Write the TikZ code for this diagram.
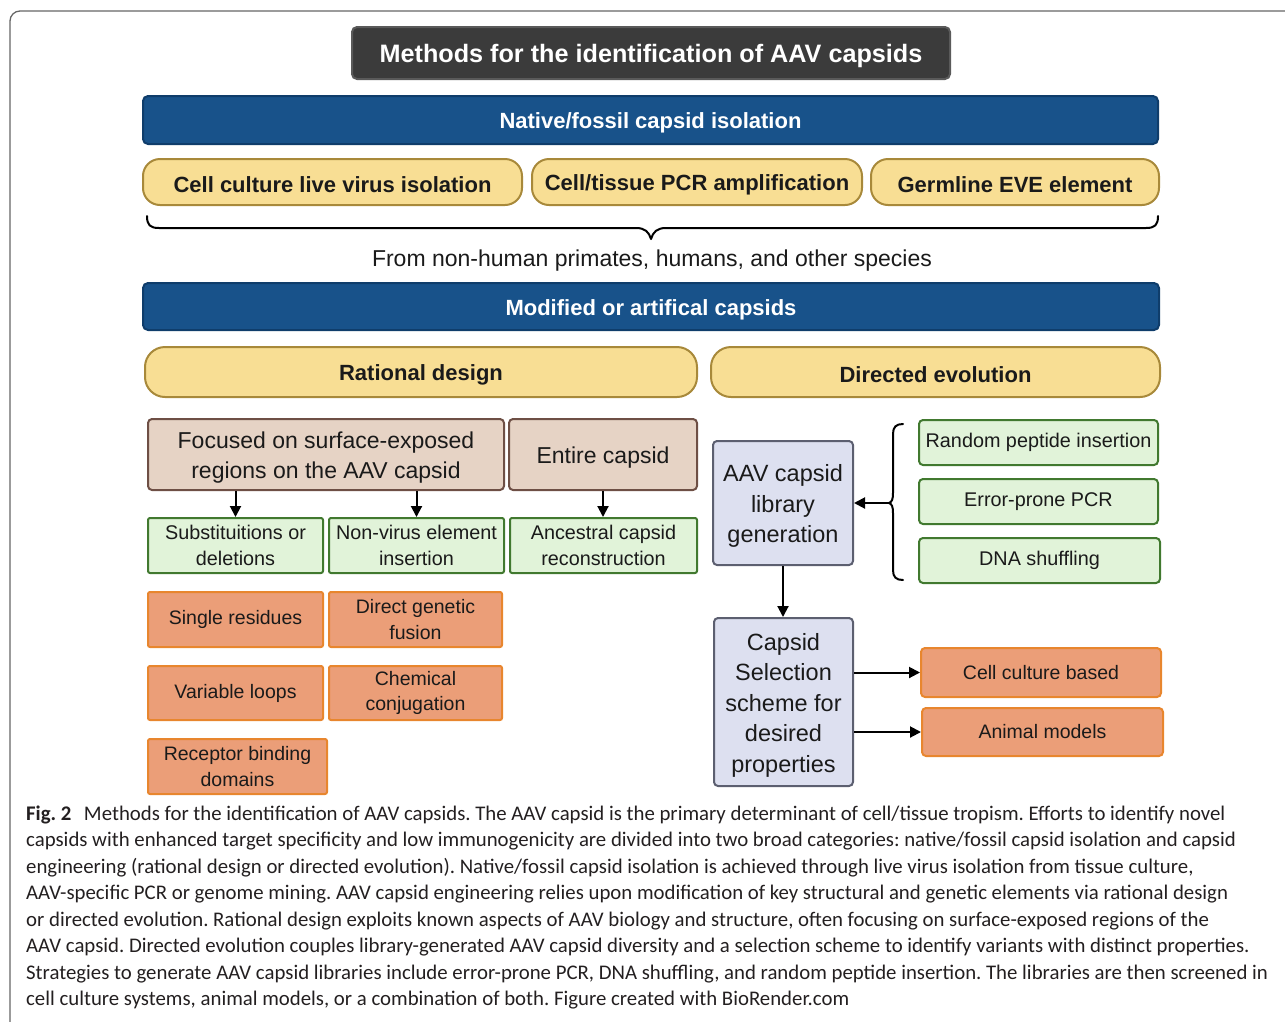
\documentclass[tikz,border=0pt]{standalone}
\usepackage{fontspec}
\setmainfont{Liberation Sans}
\newfontfamily\capfont{Carlito}
\usetikzlibrary{arrows.meta}
\definecolor{titlef}{HTML}{3B3B3B}
\definecolor{titleb}{HTML}{5A5A5A}
\definecolor{bluef}{HTML}{18528A}
\definecolor{blueb}{HTML}{0F3D6B}
\definecolor{yelf}{HTML}{F8DE94}
\definecolor{yelb}{HTML}{A8893A}
\definecolor{brnf}{HTML}{E6D3C5}
\definecolor{brnb}{HTML}{6E4F45}
\definecolor{grnf}{HTML}{E1F3D9}
\definecolor{grnb}{HTML}{41792F}
\definecolor{orgf}{HTML}{EB9E78}
\definecolor{orgb}{HTML}{E8862E}
\definecolor{lavf}{HTML}{DDE0F0}
\definecolor{lavb}{HTML}{5C5F70}
\definecolor{txt}{HTML}{1A1A1A}
\definecolor{captxt}{HTML}{231F20}
\frenchspacing
\begin{document}
\begin{tikzpicture}[x=1pt,y=-1pt,
  box/.style={draw, line width=2pt, rounded corners=4pt, inner sep=0pt, align=center, text=txt},
  lower/.style={execute at begin node={\rule{0pt}{1em}}},
  titlebox/.style={box, lower, fill=titlef, draw=titleb, rounded corners=5pt, text=white, font=\bfseries\fontsize{25.2}{30}\selectfont},
  bluebar/.style={box, lower, fill=bluef, draw=blueb, rounded corners=5pt, text=white, font=\bfseries\fontsize{22}{26}\selectfont},
  pill/.style={box, lower, fill=yelf, draw=yelb, rounded corners=17pt, font=\bfseries\fontsize{22}{26}\selectfont},
  brnbox/.style={box, fill=brnf, draw=brnb, font=\fontsize{23}{30}\selectfont},
  grnbox/.style={box, fill=grnf, draw=grnb, font=\fontsize{19.8}{25.5}\selectfont},
  orgbox/.style={box, fill=orgf, draw=orgb, font=\fontsize{19.5}{25.5}\selectfont},
  lavbox/.style={box, fill=lavf, draw=lavb, font=\fontsize{23.5}{30.5}\selectfont},
  arr/.style={line width=2pt, -{Triangle[length=11pt,width=11pt]}},
  bracepath/.style={line width=2pt, line cap=round, line join=round},
  capline/.style={anchor=west, inner sep=0pt, text=captxt, font=\capfont\fontsize{20.8}{24}\selectfont}
]
\useasboundingbox (0,0) rectangle (1285,1021);
\begin{scope}
\clip (0,0) rectangle (1285,1021);
\draw[line width=1.3pt, draw=black!60, rounded corners=10pt] (10,11) rectangle (1330,1070);
\end{scope}

\node[titlebox, minimum width=598pt, minimum height=52pt] (title) at (651,53) {Methods for the identification of AAV capsids};

\node[bluebar, minimum width=1015pt, minimum height=48pt] (native) at (650.5,120) {Native/fossil capsid isolation};

\node[pill, minimum width=379pt, minimum height=46pt] (cc) at (332.5,182) {Cell culture live virus isolation};
\node[pill, minimum width=330pt, minimum height=46pt] (pcr) at (697,182) {Cell/tissue PCR amplification};
\node[pill, minimum width=288pt, minimum height=46pt] (eve) at (1015,182) {Germline EVE element};

\coordinate (bl) at (147,216);
\coordinate (bt) at (651,239);
\coordinate (br) at (1158,216);
\draw[bracepath] (bl) .. controls (147,225) and (150,228) .. (159,228) -- (636,228) .. controls (645,228) and (649,232) .. (bt) .. controls (653,232) and (657,228) .. (666,228) -- (1146,228) .. controls (1155,228) and (1158,225) .. (br);

\node[inner sep=0pt, lower, text=txt, font=\fontsize{23}{26}\selectfont] (from) at (652,257) {From non-human primates, humans, and other species};

\node[bluebar, minimum width=1016pt, minimum height=47pt] (mod) at (651,306.5) {Modified or artifical capsids};

\node[pill, minimum width=552pt, minimum height=50pt, rounded corners=20pt] (rat) at (421,372) {Rational design};
\node[pill, minimum width=449pt, minimum height=50pt, rounded corners=20pt] (dir) at (935.5,372) {Directed evolution};

\node[brnbox, minimum width=356pt, minimum height=71pt] (focus) at (326,454.5) {\rule{0pt}{1em}Focused on surface-exposed\\regions on the AAV capsid};
\node[brnbox, lower, minimum width=188pt, minimum height=71pt] (entire) at (603,454.5) {Entire capsid};

\node[grnbox, minimum width=175pt, minimum height=55pt, rounded corners=2pt] (subs) at (235.5,545.5) {Substituitions or\\deletions};
\node[grnbox, minimum width=175pt, minimum height=55pt, rounded corners=2pt] (nonv) at (416.5,545.5) {Non-virus element\\insertion};
\node[grnbox, minimum width=187pt, minimum height=55pt, rounded corners=2pt] (anc) at (603.5,545.5) {Ancestral capsid\\reconstruction};

\draw[arr] (focus.south -| subs.north) -- (subs.north);
\draw[arr] (focus.south -| nonv.north) -- (nonv.north);
\draw[arr] (entire.south) -- (entire.south |- anc.north);

\node[orgbox, minimum width=175pt, minimum height=55pt, rounded corners=2pt] (single) at (235.5,619.5) {Single residues};
\node[orgbox, minimum width=173pt, minimum height=55pt, rounded corners=2pt] (fusion) at (415.5,619.5) {Direct genetic\\fusion};
\node[orgbox, minimum width=175pt, minimum height=54pt, rounded corners=2pt] (loops) at (235.5,693) {Variable loops};
\node[orgbox, minimum width=173pt, minimum height=54pt, rounded corners=2pt] (chem) at (415.5,693) {Chemical\\conjugation};
\node[orgbox, minimum width=179pt, minimum height=55pt, rounded corners=2pt] (recep) at (237.5,766.5) {Receptor binding\\domains};

\node[lavbox, minimum width=140pt, minimum height=124pt] (lib) at (783,503) {\rule{0pt}{1em}AAV capsid\\library\\generation};
\node[grnbox, minimum width=239pt, minimum height=45pt] (rpi) at (1038.5,442.5) {Random peptide insertion};
\node[grnbox, minimum width=239pt, minimum height=45pt] (epp) at (1038.5,501.5) {Error-prone PCR};
\node[grnbox, minimum width=241pt, minimum height=45pt] (dna) at (1039.5,560.5) {DNA shuffling};

\coordinate (vt) at (903,424);
\coordinate (vtip) at (889,503);
\coordinate (vb) at (903,580);
\draw[bracepath] (vt) .. controls (896,424) and (893,427) .. (893,434) -- (893,493) .. controls (893,499) and (892,502) .. (vtip) .. controls (892,504) and (893,507) .. (893,513) -- (893,570) .. controls (893,577) and (896,580) .. (vb);
\draw[arr] (vtip) -- (lib.east |- vtip);

\node[lavbox, minimum width=139pt, minimum height=168pt] (sel) at (783.5,702) {\rule{0pt}{1em}Capsid\\Selection\\scheme for\\desired\\properties};
\draw[arr] (lib.south) -- (lib.south |- sel.north);

\node[orgbox, minimum width=240pt, minimum height=49pt] (ccb) at (1041,672.5) {Cell culture based};
\node[orgbox, minimum width=241pt, minimum height=48pt] (ani) at (1042.5,732) {Animal models};
\draw[arr] (sel.east |- ccb) -- (ccb.west);
\draw[arr] (sel.east |- ani) -- (ani.west);

\node[capline] (c1) at (26,815) {\textbf{Fig. 2}\hspace{0.6em}Methods for the identification of AAV capsids. The AAV capsid is the primary determinant of cell/tissue tropism. Efforts to identify novel};
\node[capline] (c2) at (26,841.5) {capsids with enhanced target specificity and low immunogenicity are divided into two broad categories: native/fossil capsid isolation and capsid};
\node[capline] (c3) at (26,868) {engineering (rational design or directed evolution). Native/fossil capsid isolation is achieved through live virus isolation from tissue culture,};
\node[capline] (c4) at (26,894.5) {AAV-specific PCR or genome mining. AAV capsid engineering relies upon modification of key structural and genetic elements via rational design};
\node[capline] (c5) at (26,921) {or directed evolution. Rational design exploits known aspects of AAV biology and structure, often focusing on surface-exposed regions of the};
\node[capline] (c6) at (26,947.5) {AAV capsid. Directed evolution couples library-generated AAV capsid diversity and a selection scheme to identify variants with distinct properties.};
\node[capline] (c7) at (26,974) {Strategies to generate AAV capsid libraries include error-prone PCR, DNA shuffling, and random peptide insertion. The libraries are then screened in};
\node[capline] (c8) at (26,1000.5) {cell culture systems, animal models, or a combination of both. Figure created with BioRender.com};
\end{tikzpicture}
\end{document}
